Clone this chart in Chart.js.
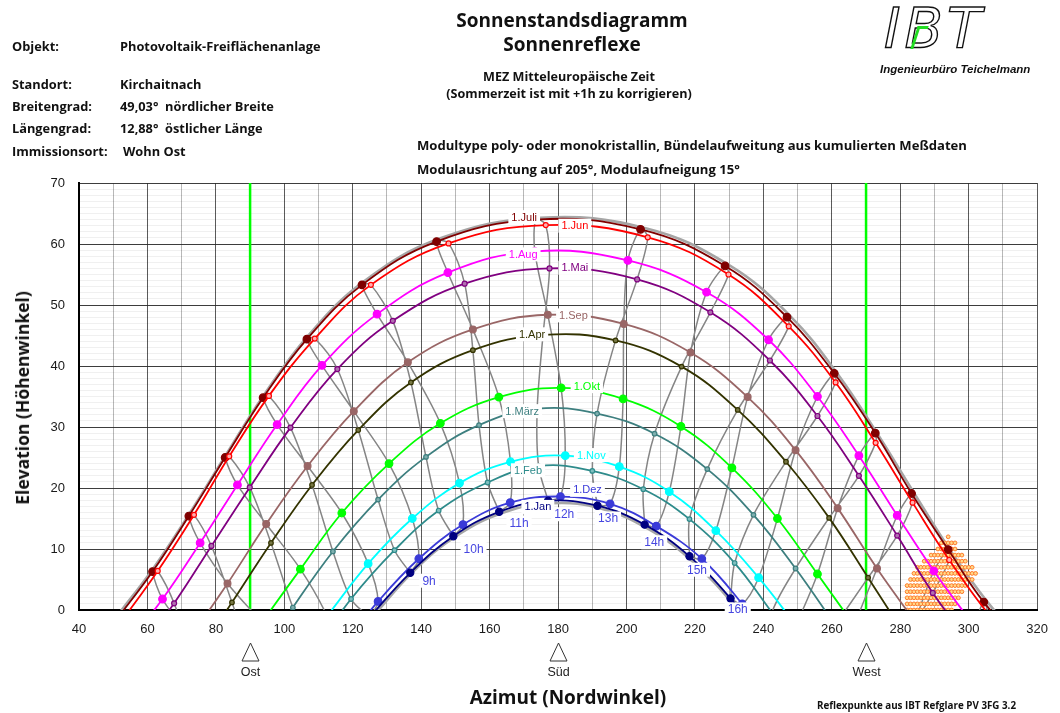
<!DOCTYPE html>
<html lang="de">
<head>
<meta charset="utf-8">
<title>Sonnenstandsdiagramm – Sonnenreflexe</title>
<script src="https://cdn.jsdelivr.net/npm/chart.js@4.4.1/dist/chart.umd.min.js"></script>
<style>
  html, body { margin:0; padding:0; background:#fff; }
  #page { position:relative; width:1060px; height:713px; overflow:hidden; color:#111; font-family:"Open Sans", Lato, sans-serif; }
  #chart { position:absolute; left:0; top:0; }
  .t { position:absolute; white-space:nowrap; font-weight:700; line-height:15px; }
  .info { font-size:12.8px; }
  .kopf { font-size:19px; line-height:24px; left:572px; transform:translateX(-50%); }
  .unterkopf { font-size:12.6px; left:569px; transform:translateX(-50%); }
  .modul { font-size:13.1px; left:417px; }
  #logo { position:absolute; left:884px; top:-5px; font:italic 400 56px "DejaVu Sans", sans-serif; color:transparent; -webkit-text-stroke:1.4px #111; letter-spacing:4px; }
  #logo-akzent { position:absolute; left:914px; top:26px; width:8px; height:20px; border-left:3px solid #22dd22; border-top:3px solid #22dd22; transform:skewX(-18deg); }
  #firma { position:absolute; left:880px; top:63px; font:italic 700 11.5px "Liberation Sans", Arial, sans-serif; }
  #ytitel { position:absolute; left:22px; top:398px; transform:translate(-50%,-50%) rotate(-90deg); font-weight:700; font-size:17.5px; white-space:nowrap; }
  #xtitel { position:absolute; left:568px; top:697px; transform:translate(-50%,-50%); font-weight:700; font-size:19px; white-space:nowrap; }
  #quelle { position:absolute; left:817px; top:699px; font-weight:700; font-size:9.8px; white-space:nowrap; }
</style>
</head>
<body>
<div id="page">
  <canvas id="chart" width="1060" height="713"></canvas>

  <div class="t info" style="left:12px;top:39px">Objekt:</div>
  <div class="t info" style="left:120px;top:39px">Photovoltaik-Freiflächenanlage</div>
  <div class="t info" style="left:12px;top:77px">Standort:</div>
  <div class="t info" style="left:120px;top:77px">Kirchaitnach</div>
  <div class="t info" style="left:12px;top:99px">Breitengrad:</div>
  <div class="t info" style="left:120px;top:99px">49,03°&nbsp;&nbsp;nördlicher Breite</div>
  <div class="t info" style="left:12px;top:121px">Längengrad:</div>
  <div class="t info" style="left:120px;top:121px">12,88°&nbsp;&nbsp;östlicher Länge</div>
  <div class="t info" style="left:12px;top:144px">Immissionsort:</div>
  <div class="t info" style="left:123px;top:144px">Wohn Ost</div>

  <div class="t kopf" style="top:8px">Sonnenstandsdiagramm</div>
  <div class="t kopf" style="top:32px">Sonnenreflexe</div>
  <div class="t unterkopf" style="top:69px">MEZ Mitteleuropäische Zeit</div>
  <div class="t unterkopf" style="top:86px">(Sommerzeit ist mit +1h zu korrigieren)</div>

  <div class="t modul" style="top:138px">Modultype poly- oder monokristallin, Bündelaufweitung aus kumulierten Meßdaten</div>
  <div class="t modul" style="top:162px">Modulausrichtung auf 205°, Modulaufneigung 15°</div>

  <div id="logo">IBT</div>
  <div id="logo-akzent"></div>
  <div id="firma">Ingenieurbüro Teichelmann</div>

  <div id="ytitel">Elevation (Höhenwinkel)</div>
  <div id="xtitel">Azimut (Nordwinkel)</div>
  <div id="quelle">Reflexpunkte aus IBT Refglare PV 3FG 3.2</div>
</div>

<script>
// ── Daten: Stunden (MEZ), Monate, Sonnenstand [Azimut, Elevation] je Stunde ──
const stunden = [4,5,6,7,8,9,10,11,12,13,14,15,16,17,18,19,20,21];
const monate  = ['1.Jan','1.Feb','1.März','1.Apr','1.Mai','1.Jun','1.Juli','1.Aug','1.Sep','1.Okt','1.Nov','1.Dez'];

const jan  = [null,null,null,null,[124.9,-1.2],[136.8,6.1],[149.4,12.1],[162.8,16.1],[177.1,17.9],[191.5,17.1],[205.3,14.0],[218.4,8.8],[230.4,1.9],[241.7,-6.2],null,null,null,null];
const feb  = [null,null,null,[108.4,-6.9],[119.5,1.8],[132.2,9.8],[145.1,16.3],[159.4,20.9],[174.3,23.6],[190.0,22.8],[204.9,19.8],[218.4,14.9],[231.6,7.7],[242.5,-0.4],null,null,null,null];
const maerz= [null,null,[91.2,-9.3],[102.5,0.4],[114.2,9.6],[127.4,18.1],[141.4,25.1],[156.9,30.3],[173.9,33.0],[191.4,32.2],[208.2,28.9],[223.6,23.1],[237.1,15.6],[249.4,6.8],[261.0,-2.5],null,null,null];
const apr  = [null,[73.4,-8.4],[84.7,1.25],[96.1,11.0],[108.1,20.5],[121.6,29.5],[137.0,37.3],[155.1,42.6],[175.6,45.1],[196.8,44.2],[216.1,39.9],[232.5,32.8],[246.6,24.3],[259.2,15.1],[270.6,5.3],[281.8,-4.5],null,null];
const mai  = [[56.3,-7.7],[67.8,1.1],[78.7,10.5],[89.9,20.1],[101.8,29.9],[115.5,39.5],[131.7,47.4],[152.7,53.5],[177.5,56.0],[203.1,54.2],[224.5,48.8],[241.9,40.9],[255.8,31.8],[267.9,22.0],[279.1,12.2],[289.5,2.8],[301.5,-6.2],null];
const jun  = [[52.2,-2.0],[63.0,6.4],[73.6,15.6],[83.9,25.2],[95.5,35.1],[108.9,44.5],[125.3,53.3],[148.0,60.1],[176.4,63.1],[206.2,61.1],[229.8,55.0],[247.4,46.5],[261.1,37.3],[272.8,27.4],[283.6,17.6],[294.3,8.2],[305.4,-0.4],[317.2,-7.7]];
const juli = [[50.5,-1.9],[61.5,6.3],[72.1,15.4],[82.7,25.0],[93.8,34.8],[106.6,44.4],[122.7,53.3],[144.5,60.4],[173.5,64.0],[204.1,62.4],[228.8,56.4],[246.9,48.0],[260.7,38.8],[272.7,29.0],[283.3,19.1],[294.0,9.9],[304.4,1.3],[316.5,-6.1]];
const aug  = [[52.8,-6.5],[64.4,1.8],[75.4,11.0],[86.3,20.5],[97.9,30.4],[111.0,40.1],[127.1,48.5],[147.8,55.3],[173.2,58.8],[200.4,57.3],[223.4,52.1],[241.5,44.3],[255.8,35.0],[267.9,25.3],[279.1,15.5],[289.8,6.4],[301.4,-2.5],null];
const sep  = [null,[72.5,-4.5],[83.4,4.35],[94.7,14.1],[106.8,23.6],[120.3,32.6],[136.1,40.6],[155.1,46.0],[177.0,48.4],[199.2,46.9],[218.7,42.2],[235.4,34.9],[249.4,26.2],[261.7,16.7],[273.2,6.8],[284.3,-1.9],null,null];
const okt  = [null,null,[93.5,-2.0],[104.7,6.7],[116.8,15.9],[130.6,24.0],[145.6,30.6],[162.7,34.9],[180.9,36.4],[199.0,34.6],[215.9,30.1],[230.8,23.3],[244.1,15.0],[255.8,5.9],[266.5,-2.5],null,null,null];
const nov  = [null,null,null,[112.5,-1.0],[124.5,7.6],[137.4,15.0],[151.2,20.8],[166.1,24.3],[182.1,25.3],[197.9,23.5],[212.5,19.4],[226.1,13.0],[238.6,5.3],[249.5,-2.5],null,null,null,null];
const dez  = [null,null,null,[115.8,-6.7],[127.4,1.4],[139.3,8.4],[152.2,14.0],[166.0,17.6],[180.7,18.6],[195.2,17.4],[208.7,13.75],[222.0,8.4],[233.8,1.0],[245.1,-7.4],null,null,null,null];

// graue Grenzlinien (Sonnenwenden)
const sommerwende = [[50.7,-1.3],[61.8,6.9],[72.4,15.9],[83.0,25.5],[94.1,35.3],[107.0,45.0],[123.3,53.9],[145.4,60.9],[174.7,64.3],[205.6,62.6],[230.1,56.5],[248.0,48.1],[261.8,38.6],[273.4,28.8],[284.1,19.1],[294.6,9.8],[305.5,1.3],[317.1,-6.1]];
const winterwende = [[126.1,-0.9],[137.8,6.4],[150.4,12.2],[164.1,16.0],[178.4,17.5],[192.7,16.6],[206.6,13.2],[219.4,7.9],[231.3,0.9],[242.4,-7.3]];

// Reflexpunkte: Elevation je Zeile, Azimute je Zeile
const reflexElevation = [0,1,2,3,4,5,6,7,8,9,10,11,12];
const reflexAzimut = [
  [282,283,284,285,286,287,288,289,290,291,292,293,294,295],
  [282,283,284,285,286,287,288,289,290,291,292,293,294,295,296],
  [282,283,284,285,286,287,288,289,290,291,292,293,294,295,296,297],
  [282,283,284,285,286,287,288,289,290,291,292,293,294,295,296,297,298],
  [282,283,284,285,286,287,288,289,290,291,292,293,294,295,296,297,298,299],
  [283,284,285,286,287,288,289,290,291,292,293,294,295,296,297,298,299,300,301],
  [284,285,286,287,288,289,290,291,292,293,294,295,296,297,298,299,300,301,302],
  [285,286,287,288,289,290,291,292,293,294,295,296,297,298,299,300,301],
  [287,288,289,290,291,292,293,294,295,296,297,298,299],
  [289,290,291,292,293,294,295,296,297,298],
  [291,292,293,294,295,296],
  [292,293,294,295,296],
  [294]
];

// Himmelsrichtungen
const richtungAzimut = [90, 180, 270];
const richtungName   = ['Ost', 'Süd', 'West'];
const gruenLinien    = [90, 270];

// ── Stil / Layout (getrennt von den Daten) ──
const monatsDaten  = [jan, feb, maerz, apr, mai, jun, juli, aug, sep, okt, nov, dez];
const monatsFarben = ['#000080','#2E8B8B','#3D7F7F','#333300','#800080','#FF0000','#800000','#FF00FF','#996666','#00FF00','#00FFFF','#3A3AD8'];
const punktFuell   = ['#000080','#7FBFBF','#7FAFAF','#777744','#B070B0','#FFB0B0','#800000','#FF00FF','#996666','#00FF00','#00FFFF','#3A3AD8'];
const punktRadius  = [3.6, 2.3, 2.3, 2.3, 2.5, 2.5, 3.8, 3.8, 3.4, 3.8, 3.8, 3.8];

const monatsLabelPos = [[174.1,16.9],[171.2,22.9],[169.5,32.6],[172.4,45.2],[184.9,56.1],[184.9,63.0],
                        [170.1,64.4],[169.8,58.3],[184.5,48.3],[188.4,36.7],[189.7,25.4],[188.6,19.7]];
const stundenLabel    = ['9h','10h','11h','12h','13h','14h','15h','16h'];
const stundenLabelPos = [[142.3,4.8],[155.3,10.0],[168.6,14.3],[181.8,15.7],[194.6,15.0],[208.1,11.1],[220.6,6.6],[232.5,0.1]];

const pt = p => p ? { x: p[0], y: p[1] } : { x: null, y: null };

// ── Datensätze ──
const datasets = [];

// Monatskurven
monatsDaten.forEach((m, i) => {
  const r = punktRadius[i];
  datasets.push({
    label: monate[i],
    data: m.filter(Boolean).map(pt),
    showLine: true,
    borderColor: monatsFarben[i],
    borderWidth: 1.8,
    tension: 0.4,
    pointRadius: ctx => (ctx.raw && ctx.raw.y < 0) ? 0 : r,
    pointBackgroundColor: punktFuell[i],
    pointBorderColor: monatsFarben[i],
    pointBorderWidth: 1.2,
    clip: 0,
    order: 1
  });
});

// Reflexpunkte
const reflexPunkte = [];
reflexElevation.forEach((el, i) => reflexAzimut[i].forEach(az => reflexPunkte.push({ x: az, y: el })));
datasets.push({
  label: 'Reflexpunkte',
  data: reflexPunkte,
  showLine: false,
  pointRadius: 1.9,
  pointBackgroundColor: '#FFD98A',
  pointBorderColor: '#FF7A2A',
  pointBorderWidth: 1,
  clip: 0,
  order: 2
});

// Sonnenwenden (grau)
[sommerwende, winterwende].forEach((w, i) => {
  datasets.push({
    label: i === 0 ? '21.Jun' : '21.Dez',
    data: w.map(pt),
    showLine: true,
    borderColor: '#A6A6A6',
    borderWidth: 2.6,
    tension: 0.4,
    pointRadius: 0,
    clip: 0,
    order: 3
  });
});

// Stundenlinien (Analemma-Abschnitte), aus den Monatsdaten
stunden.forEach((h, k) => {
  const pts = monatsDaten.map(m => pt(m[k]));
  pts.push(pts[0]);
  datasets.push({
    label: h + 'h',
    data: pts,
    showLine: true,
    borderColor: '#858585',
    borderWidth: 1.5,
    tension: 0.3,
    pointRadius: 0,
    spanGaps: false,
    clip: 0,
    order: 4
  });
});

// Ost / West
gruenLinien.forEach(az => {
  datasets.push({
    label: 'az' + az,
    data: [{ x: az, y: 0 }, { x: az, y: 70 }],
    showLine: true,
    borderColor: '#00FF00',
    borderWidth: 2.5,
    pointRadius: 0,
    clip: 0,
    order: 5
  });
});

// ── Beschriftungen im Diagramm ──
function labelBox(ctx, text, px, py, color) {
  const w = ctx.measureText(text).width;
  ctx.fillStyle = '#fff';
  ctx.fillRect(px - w / 2 - 3, py - 7, w + 6, 14);
  ctx.fillStyle = color;
  ctx.fillText(text, px, py + 0.5);
}

const beschriftung = {
  id: 'beschriftung',
  afterDatasetsDraw(chart) {
    const { ctx, scales: { x, y } } = chart;
    ctx.save();
    ctx.textAlign = 'center';
    ctx.textBaseline = 'middle';
    ctx.font = '11px "Liberation Sans", Arial, sans-serif';
    monate.forEach((m, i) => {
      const [az, el] = monatsLabelPos[i];
      labelBox(ctx, m, x.getPixelForValue(az), y.getPixelForValue(el), monatsFarben[i]);
    });
    ctx.font = '12px "Liberation Sans", Arial, sans-serif';
    stundenLabel.forEach((s, i) => {
      const [az, el] = stundenLabelPos[i];
      labelBox(ctx, s, x.getPixelForValue(az), y.getPixelForValue(el), '#4646E0');
    });
    ctx.restore();
  },
  afterDraw(chart) {
    const { ctx, scales: { x } } = chart;
    ctx.save();
    ctx.strokeStyle = '#333';
    ctx.lineWidth = 1;
    ctx.fillStyle = '#222';
    ctx.font = '12.5px "Liberation Sans", Arial, sans-serif';
    ctx.textAlign = 'center';
    ctx.textBaseline = 'middle';
    richtungAzimut.forEach((az, i) => {
      const px = Math.round(x.getPixelForValue(az)) + 0.5;
      ctx.beginPath();
      ctx.moveTo(px, 643);
      ctx.lineTo(px - 8.5, 661);
      ctx.lineTo(px + 8.5, 661);
      ctx.closePath();
      ctx.stroke();
      ctx.fillText(richtungName[i], px, 673);
    });
    ctx.restore();
  }
};

// ── Chart ──
Chart.defaults.font.family = '"Liberation Sans", Arial, sans-serif';
Chart.defaults.color = '#222';

new Chart(document.getElementById('chart'), {
  type: 'scatter',
  data: { datasets },
  plugins: [beschriftung],
  options: {
    responsive: false,
    animation: false,
    events: [],
    layout: { padding: { left: 0, top: 183, right: 12, bottom: 73 } },
    plugins: { legend: { display: false }, tooltip: { enabled: false } },
    scales: {
      x: {
        type: 'linear', min: 40, max: 320,
        afterFit: s => { s.height = 30; },
        ticks: { stepSize: 10, autoSkip: false, maxRotation: 0, padding: 12,
                 font: { size: 13 }, color: '#1a1a1a',
                 callback: v => v % 20 === 0 ? v : '' },
        grid: { drawTicks: false, lineWidth: 1,
                color: c => (c.tick && c.tick.value % 20 === 0) ? '#5a5a5a' : '#b8b8b8' },
        border: { color: '#000', width: 2 }
      },
      y: {
        type: 'linear', min: 0, max: 70,
        afterFit: s => { s.width = 79; },
        ticks: { stepSize: 1, autoSkip: false, padding: 14,
                 font: { size: 13 }, color: '#1a1a1a',
                 callback: v => v % 10 === 0 ? v : '' },
        grid: { drawTicks: false, lineWidth: 1,
                color: c => (c.tick && c.tick.value % 10 === 0) ? 'rgba(40,40,40,0.9)' : 'rgba(0,0,0,0.06)' },
        border: { color: '#000', width: 2 }
      }
    }
  }
});
</script>
</body>
</html>
